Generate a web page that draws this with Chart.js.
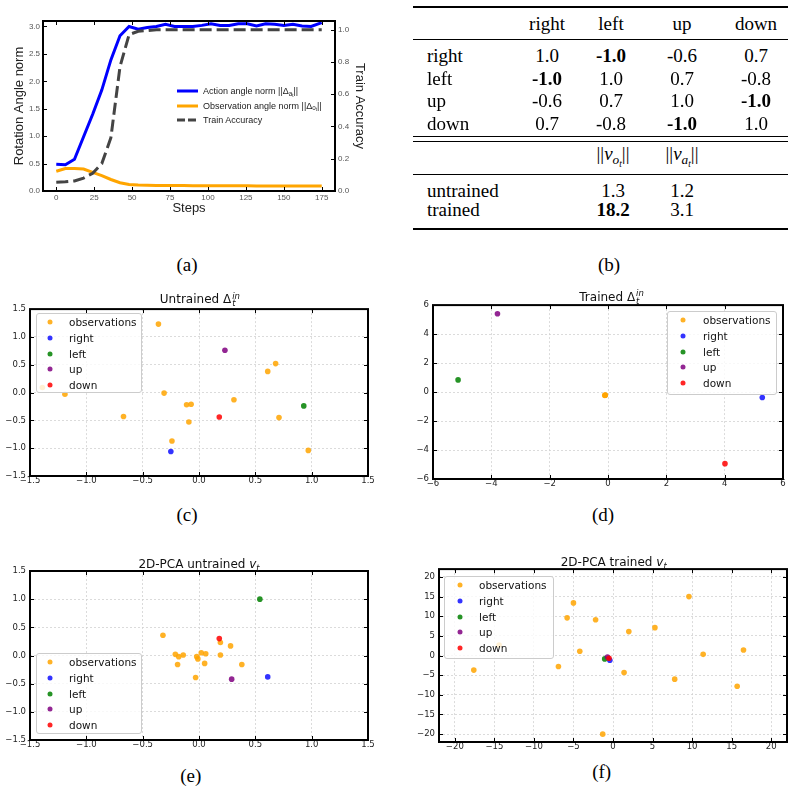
<!DOCTYPE html>
<html>
<head>
<meta charset="utf-8">
<title>Rotation angle figure</title>
<script src="https://cdn.jsdelivr.net/npm/chart.js"></script>
<style>
  body { margin: 0; background: #fff; }
  #page { position: relative; width: 795px; height: 795px; overflow: hidden; background: #fff; }
  #page canvas { position: absolute; }
  .serif { position: absolute; white-space: nowrap; font-family: "Liberation Serif", "Times New Roman", serif; font-size: 19px; line-height: 19px; color: #000; }
  .serif.c { transform: translateX(-50%); }
  .rule { position: absolute; left: 413px; width: 375px; background: #000; }
  .title { position: absolute; white-space: nowrap; font-family: "DejaVu Sans", sans-serif; font-size: 12px; line-height: 12px; color: #111; transform: translateX(-50%); }
  .stack { position: relative; display: inline-block; width: 9px; height: 1px; }
  .stack i { position: absolute; left: 1px; font-size: 8.5px; line-height: 8.5px; }
  .stack i.up { bottom: 3px; }
  .stack i.dn { top: -3px; }
  .legend { position: absolute; background: rgba(255,255,255,0.8); border: 1px solid #cccccc; border-radius: 3px; box-sizing: border-box; }
  .lg-row { position: absolute; white-space: nowrap; font-family: "DejaVu Sans", sans-serif; font-size: 10.5px; line-height: 12px; color: #111; transform: translateY(-50%); }
  .dot { position: absolute; width: 5px; height: 5px; border-radius: 50%; transform: translate(-50%, -50%); }
  .la-row { position: absolute; white-space: nowrap; font-family: "Liberation Sans", Arial, sans-serif; font-size: 9px; line-height: 10px; color: #222; transform: translateY(-50%); }
  .la-line { position: absolute; width: 21px; height: 3px; transform: translateY(-50%); }
  sub.m { font-size: 70%; line-height: 0; vertical-align: -0.3em; }
</style>
</head>
<body>
<div id="page">
  <canvas id="chartA"></canvas>
  <canvas id="chartC"></canvas>
  <canvas id="chartD"></canvas>
  <canvas id="chartE"></canvas>
  <canvas id="chartF"></canvas>
</div>

<script>
  // ---------- data: panel (a) ----------
  const steps = [0, 6, 12, 18, 24, 30, 36, 42, 48, 54, 60, 66, 72, 78, 84, 90, 96, 102, 108, 114, 120, 126, 132, 138, 144, 150, 156, 162, 168, 175];
  const actionNorm = [0.49, 0.48, 0.58, 0.99, 1.40, 1.84, 2.39, 2.83, 3.00, 2.95, 2.98, 3.00, 3.04, 3.00, 3.00, 3.00, 3.02, 3.05, 3.02, 3.02, 3.05, 3.05, 3.01, 3.05, 3.04, 3.02, 3.04, 3.01, 3.00, 3.07];
  const obsNorm = [0.36, 0.41, 0.41, 0.40, 0.34, 0.28, 0.21, 0.15, 0.12, 0.11, 0.105, 0.10, 0.10, 0.10, 0.10, 0.095, 0.095, 0.095, 0.095, 0.095, 0.095, 0.095, 0.09, 0.09, 0.09, 0.09, 0.09, 0.09, 0.09, 0.09];
  const trainAcc = [0.055, 0.057, 0.062, 0.08, 0.11, 0.17, 0.33, 0.77, 0.97, 0.99, 0.995, 1.0, 1.0, 1.0, 1.0, 1.0, 1.0, 1.0, 1.0, 1.0, 1.0, 1.0, 1.0, 1.0, 1.0, 1.0, 1.0, 1.0, 1.0, 1.0];

  // ---------- data: table (b) ----------
  const dirs = ['right', 'left', 'up', 'down'];
  const cosSim = [
    [1.0, -1.0, -0.6, 0.7],
    [-1.0, 1.0, 0.7, -0.8],
    [-0.6, 0.7, 1.0, -1.0],
    [0.7, -0.8, -1.0, 1.0]
  ];
  const normRows = ['untrained', 'trained'];
  const normObs = [1.3, 18.2];
  const normAct = [1.2, 3.1];

  // ---------- data: scatter panels (c)-(f) ----------
  const seriesNames = ['observations', 'right', 'left', 'up', 'down'];
  // action points are in the order right, left, up, down
  const cObsX = [-0.36, 0.61, 0.68, -0.31, 0.31, -0.11, -0.07, -0.67, -0.09, 0.71, -0.24, 0.97, -1.39, -1.19];
  const cObsY = [1.23, 0.38, 0.52, -0.01, -0.13, -0.22, -0.21, -0.43, -0.53, -0.45, -0.87, -1.04, 0.09, -0.03];
  const cActX = [-0.25, 0.93, 0.23, 0.18];
  const cActY = [-1.06, -0.24, 0.76, -0.44];

  const dObsX = [-0.10, -0.09, -0.11];
  const dObsY = [-0.22, -0.21, -0.23];
  const dActX = [5.29, -5.14, -3.79, 4.01];
  const dActY = [-0.38, 0.84, 5.40, -4.94];

  const eObsX = [-0.32, -0.21, -0.18, -0.19, -0.14, -0.02, -0.01, 0.02, 0.06, 0.05, -0.03, 0.19, 0.19, 0.28, 0.38];
  const eObsY = [0.36, 0.02, -0.02, -0.16, 0.01, -0.02, -0.06, 0.05, 0.03, -0.14, -0.39, 0.23, 0.01, 0.17, -0.16];
  const eActX = [0.61, 0.54, 0.29, 0.18];
  const eActY = [-0.38, 1.00, -0.42, 0.30];

  const fObsX = [-17.6, -14.4, -6.9, -5.8, -5.0, -4.2, -2.2, -1.3, 1.4, 2.0, 5.3, 7.8, 9.6, 11.4, 15.7, 16.5];
  const fObsY = [-3.7, 2.7, -2.8, 9.6, 13.4, 1.1, 9.1, -20.0, -4.3, 6.1, 7.1, -6.0, 15.0, 0.3, -7.8, 1.4];
  const fActX = [-0.4, -1.05, -0.7, -0.5];
  const fActY = [-1.2, -0.85, -0.4, -0.7];

  // ---------- styles ----------
  const seriesColors = ['rgba(255,165,0,0.85)', 'rgba(0,0,255,0.8)', 'rgba(0,128,0,0.85)', 'rgba(128,0,128,0.85)', 'rgba(255,0,0,0.85)'];
  const page = document.getElementById('page');

  // inward tick marks + thick frame, matplotlib style
  const tickMarks = {
    id: 'tickMarks',
    afterDatasetsDraw(chart, args, o) {
      const {ctx, chartArea: a} = chart;
      const len = o.len || 4;
      ctx.save();
      ctx.strokeStyle = '#000';
      ctx.lineWidth = 1;
      ctx.beginPath();
      for (const s of Object.values(chart.scales)) {
        for (const t of s.ticks) {
          const p = Math.round(s.getPixelForValue(t.value)) + 0.5;
          if (s.isHorizontal()) {
            ctx.moveTo(p, a.bottom); ctx.lineTo(p, a.bottom - len);
            ctx.moveTo(p, a.top); ctx.lineTo(p, a.top + len);
          } else {
            const left = s.position === 'left';
            if (left || o.mirrorY) { ctx.moveTo(a.left, p); ctx.lineTo(a.left + len, p); }
            if (!left || o.mirrorY) { ctx.moveTo(a.right, p); ctx.lineTo(a.right - len, p); }
          }
        }
      }
      ctx.stroke();
      ctx.lineWidth = 2;
      ctx.strokeRect(a.left, a.top, a.right - a.left, a.bottom - a.top);
      ctx.restore();
    }
  };
  Chart.register(tickMarks);

  function setCanvas(id, fr) {
    const cv = document.getElementById(id);
    cv.width = fr.w; cv.height = fr.h;
    cv.style.left = fr.x + 'px'; cv.style.top = fr.y + 'px';
    return cv;
  }

  function addText(cls, html, x, base, shift) {
    const d = document.createElement('div');
    d.className = cls;
    d.innerHTML = html;
    d.style.left = x + 'px';
    d.style.top = (base - shift) + 'px';
    page.appendChild(d);
    return d;
  }

  const fmt1 = v => (v < 0 ? '\u2212' : '') + Math.abs(v).toFixed(1);
  const fmt0 = v => (v < 0 ? '\u2212' : '') + Math.abs(v).toFixed(0);

  // ---------- panel (a) ----------
  const frA = {x: 0, y: 0, w: 380, h: 225, l: 43, t: 21, r: 335, b: 191};
  const sansA = 'Liberation Sans, Arial, sans-serif';
  const tickA = {family: sansA, size: 8};
  const titleA = {family: sansA, size: 13};
  new Chart(setCanvas('chartA', frA), {
    type: 'line',
    data: {
      datasets: [
        {label: 'Train Accuracy', data: steps.map((s, i) => ({x: s, y: trainAcc[i]})), yAxisID: 'y2',
         borderColor: '#444444', borderDash: [12, 5], borderWidth: 3, order: 0},
        {label: 'Action angle norm', data: steps.map((s, i) => ({x: s, y: actionNorm[i]})), yAxisID: 'y',
         borderColor: '#0000ff', borderWidth: 3, order: 1},
        {label: 'Observation angle norm', data: steps.map((s, i) => ({x: s, y: obsNorm[i]})), yAxisID: 'y',
         borderColor: '#ffa500', borderWidth: 3, order: 2}
      ]
    },
    options: {
      responsive: false, animation: false, events: [], devicePixelRatio: 1,
      elements: {point: {radius: 0}, line: {tension: 0, fill: false}},
      layout: {padding: {top: frA.t - frA.y, right: 0, left: 0, bottom: 0}},
      plugins: {legend: {display: false}, tooltip: {enabled: false}, tickMarks: {len: 4}},
      scales: {
        x: {
          type: 'linear', min: -8.75, max: 183.75,
          ticks: {stepSize: 25, includeBounds: false, padding: 2, maxRotation: 0, font: tickA, color: '#555'},
          grid: {display: false, drawTicks: false}, border: {display: false},
          title: {display: true, text: 'Steps', font: titleA, color: '#222', padding: {top: 0, bottom: 9}},
          afterFit(s) { s.height = frA.y + frA.h - frA.b; }
        },
        y: {
          position: 'left', min: 0, max: 3.1,
          ticks: {stepSize: 0.5, includeBounds: false, padding: 3, font: tickA, color: '#555', callback: v => v.toFixed(1)},
          grid: {display: false, drawTicks: false}, border: {display: false},
          title: {display: true, text: 'Rotation Angle norm', font: titleA, color: '#222', padding: {top: 12, bottom: 0}},
          afterFit(s) { s.width = frA.l - frA.x; }
        },
        y2: {
          position: 'right', min: 0, max: 1.054,
          ticks: {stepSize: 0.2, includeBounds: false, padding: 3, font: tickA, color: '#555', callback: v => v.toFixed(1)},
          grid: {display: false, drawTicks: false}, border: {display: false},
          title: {display: true, text: 'Train Accuracy', font: titleA, color: '#222', padding: {top: 13, bottom: 0}},
          afterFit(s) { s.width = frA.x + frA.w - frA.r; }
        }
      }
    }
  });

  // legend of panel (a)
  const lineLegend = [
    {html: 'Action angle norm ||\u0394<sub class="m">a<sub class="m">t</sub></sub>||', bg: '#0000ff', y: 91},
    {html: 'Observation angle norm ||\u0394<sub class="m">o<sub class="m">t</sub></sub>||', bg: '#ffa500', y: 105.5},
    {html: 'Train Accuracy', bg: 'repeating-linear-gradient(to right, #444 0 8px, transparent 8px 11px)', y: 120}
  ];
  lineLegend.forEach(it => {
    const ln = document.createElement('div');
    ln.className = 'la-line';
    ln.style.left = '177px'; ln.style.top = it.y + 'px';
    ln.style.background = it.bg;
    page.appendChild(ln);
    addText('la-row', it.html, 203, it.y, 0);
  });

  // ---------- table (b) ----------
  const colX = [547, 611, 682, 756];
  const headBase = 29.5;
  const rowBase = [61.5, 84.5, 107, 129.5];
  dirs.forEach((d, j) => addText('serif c', d, colX[j], headBase, 16));
  dirs.forEach((d, i) => {
    addText('serif', d, 427, rowBase[i], 16);
    cosSim[i].forEach((v, j) => {
      const el = addText('serif c', v.toFixed(1), colX[j], rowBase[i], 16);
      if (v === -1.0) el.style.fontWeight = 'bold';
    });
  });
  const normColX = [613, 682];
  addText('serif c', '||<i>v</i><sub class="m"><i>o</i><sub class="m"><i>t</i></sub></sub>||', normColX[0], 160, 16);
  addText('serif c', '||<i>v</i><sub class="m"><i>a</i><sub class="m"><i>t</i></sub></sub>||', normColX[1], 160, 16);
  const normBase = [196.7, 215.5];
  const normMax = Math.max(...normObs, ...normAct);
  normRows.forEach((r, i) => {
    addText('serif', r, 427, normBase[i], 16);
    [normObs[i], normAct[i]].forEach((v, j) => {
      const el = addText('serif c', v.toFixed(1), normColX[j], normBase[i], 16);
      if (v === normMax) el.style.fontWeight = 'bold';
    });
  });
  [[5.7, 2], [39, 1], [136.2, 1], [140.8, 1], [173.5, 1], [227.7, 2]].forEach(([y, h]) => {
    const r = document.createElement('div');
    r.className = 'rule';
    r.style.top = y + 'px'; r.style.height = h + 'px';
    page.appendChild(r);
  });

  // ---------- scatter panels ----------
  function scatterPanel(id, fr, range, step, fmt, obsX, obsY, actX, actY) {
    const datasets = [{label: seriesNames[0], data: obsX.map((x, i) => ({x: x, y: obsY[i]})),
      backgroundColor: seriesColors[0], order: 5}];
    actX.forEach((x, i) => datasets.push({label: seriesNames[i + 1], data: [{x: x, y: actY[i]}],
      backgroundColor: seriesColors[i + 1], order: 4 - i}));
    const tickFont = {family: 'DejaVu Sans, sans-serif', size: 8.5};
    const axis = {
      min: -range, max: range,
      ticks: {stepSize: step, includeBounds: false, maxRotation: 0, font: tickFont, color: '#222', callback: fmt},
      grid: {color: '#d2d2d2', lineWidth: 0.8, drawTicks: false},
      border: {display: false, dash: [2, 2]}
    };
    new Chart(setCanvas(id, fr), {
      type: 'scatter',
      data: {datasets},
      options: {
        responsive: false, animation: false, events: [], devicePixelRatio: 1,
        elements: {point: {radius: 2.8, borderWidth: 0}},
        layout: {padding: {top: fr.t - fr.y, right: fr.x + fr.w - fr.r, left: 0, bottom: 0}},
        plugins: {legend: {display: false}, tooltip: {enabled: false}, tickMarks: {len: 4, mirrorY: true}},
        scales: {
          x: Object.assign({}, axis, {ticks: Object.assign({}, axis.ticks, {padding: 0}),
            afterFit(s) { s.height = fr.y + fr.h - fr.b; }}),
          y: Object.assign({}, axis, {ticks: Object.assign({}, axis.ticks, {padding: 4}),
            afterFit(s) { s.width = fr.l - fr.x; }})
        }
      }
    });
  }

  function scatterLegend(box, markX, textX) {
    const lg = document.createElement('div');
    lg.className = 'legend';
    lg.style.left = box.l + 'px'; lg.style.top = box.t + 'px';
    lg.style.width = (box.r - box.l) + 'px'; lg.style.height = (box.b - box.t) + 'px';
    page.appendChild(lg);
    seriesNames.forEach((n, i) => {
      const y = box.t + 9 + i * 15.8;
      const dot = document.createElement('div');
      dot.className = 'dot';
      dot.style.left = markX + 'px'; dot.style.top = y + 'px';
      dot.style.background = seriesColors[i];
      page.appendChild(dot);
      addText('lg-row', n, textX, y, 0);
    });
  }

  function panelTitle(html, cx, base) {
    addText('title', html, cx, base, 10);
  }

  const frC = {x: 0, y: 300, w: 380, h: 190, l: 30, t: 307, r: 368, b: 476};
  const frD = {x: 400, y: 296, w: 395, h: 200, l: 433, t: 304, r: 783, b: 479};
  const frE = {x: 0, y: 560, w: 380, h: 195, l: 30, t: 571, r: 368, b: 740};
  const frF = {x: 400, y: 560, w: 395, h: 197, l: 439, t: 569, r: 787, b: 742};

  scatterPanel('chartC', frC, 1.5, 0.5, fmt1, cObsX, cObsY, cActX, cActY);
  scatterPanel('chartD', frD, 6, 2, fmt0, dObsX, dObsY, dActX, dActY);
  scatterPanel('chartE', frE, 1.5, 0.5, fmt1, eObsX, eObsY, eActX, eActY);
  scatterPanel('chartF', frF, 22, 5, fmt0, fObsX, fObsY, fActX, fActY);

  scatterLegend({l: 36, t: 313, r: 142, b: 393}, 50, 69);
  scatterLegend({l: 667, t: 311, r: 777, b: 395}, 683, 703);
  scatterLegend({l: 36, t: 653, r: 142, b: 734}, 50, 69);
  scatterLegend({l: 444, t: 576, r: 554, b: 659}, 460, 479);

  const deltaIn = '\u0394<span class="stack"><i class="up">in</i><i class="dn">t</i></span>';
  panelTitle('Untrained ' + deltaIn, 200, 303.3);
  panelTitle('Trained ' + deltaIn, 611.7, 300.7);
  panelTitle('2D-PCA untrained <i>v</i><sub class="m"><i>t</i></sub>', 199, 568.3);
  panelTitle('2D-PCA trained <i>v</i><sub class="m"><i>t</i></sub>', 613.7, 566);

  // ---------- captions ----------
  [['(a)', 187, 271], ['(b)', 609, 271], ['(c)', 187, 521], ['(d)', 603, 521], ['(e)', 190.7, 781.5], ['(f)', 601.7, 778]]
    .forEach(([t, x, y]) => addText('serif c', t, x, y, 16));
</script>
</body>
</html>
